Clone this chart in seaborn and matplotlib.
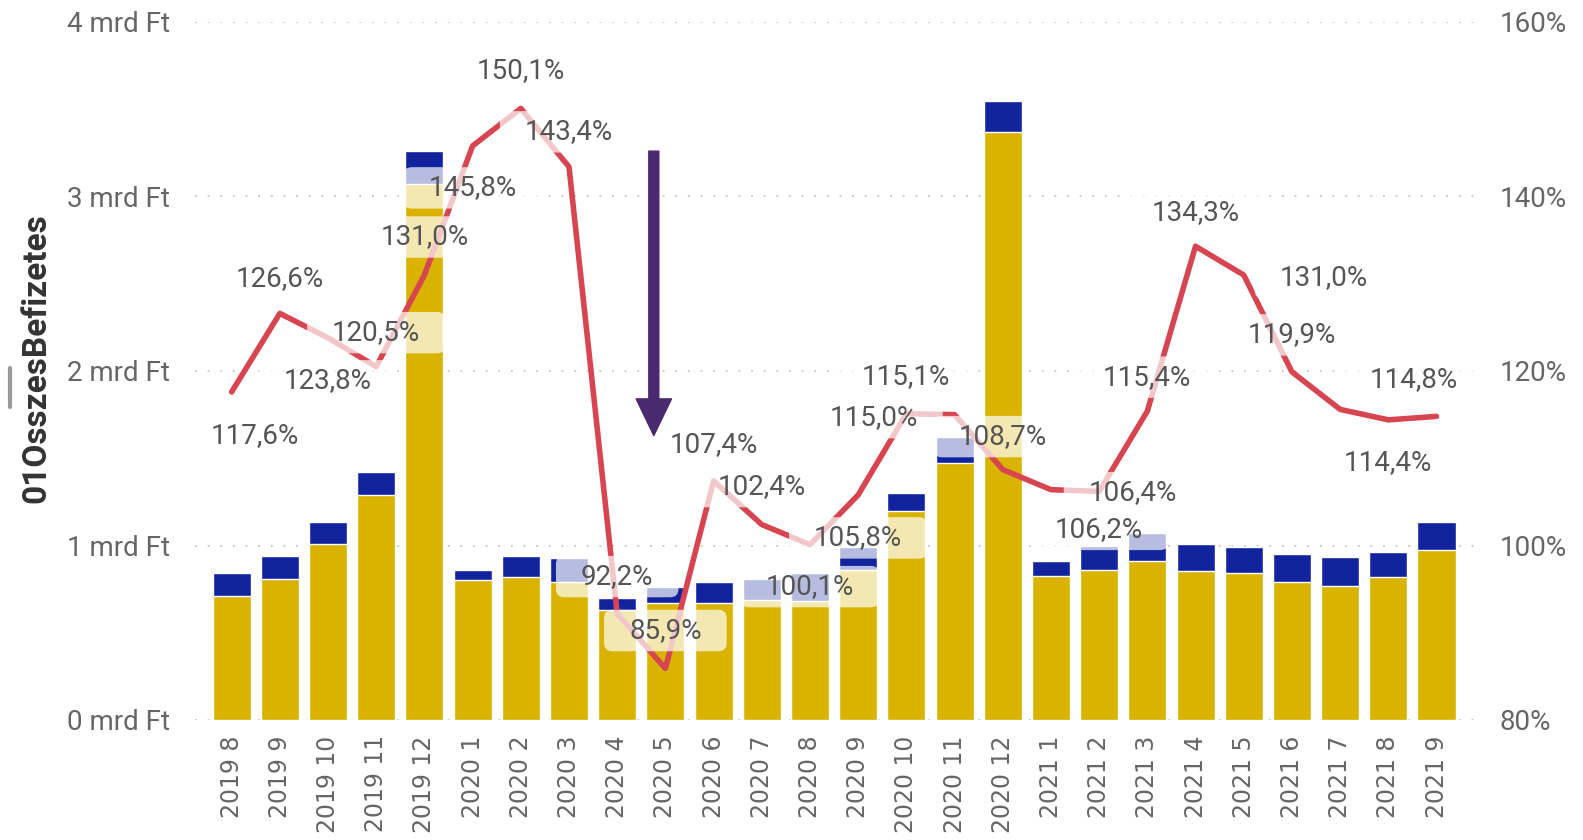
import numpy as np
import matplotlib
matplotlib.use('Agg')
import matplotlib.pyplot as plt
from matplotlib.patches import BoxStyle
from matplotlib.lines import Line2D
import seaborn as sns

# Monthly periods on the x axis
months = ['2019 8', '2019 9', '2019 10', '2019 11', '2019 12',
          '2020 1', '2020 2', '2020 3', '2020 4', '2020 5', '2020 6',
          '2020 7', '2020 8', '2020 9', '2020 10', '2020 11', '2020 12',
          '2021 1', '2021 2', '2021 3', '2021 4', '2021 5', '2021 6',
          '2021 7', '2021 8', '2021 9']

# Bar parts in mrd Ft (gold = lower part, navy = upper part)
gold_part = [0.71, 0.81, 1.01, 1.29, 3.07, 0.80, 0.82, 0.79, 0.63, 0.67, 0.67,
             0.69, 0.68, 0.86, 1.20, 1.47, 3.37, 0.825, 0.86, 0.91, 0.855, 0.84,
             0.79, 0.77, 0.82, 0.975]
navy_part = [0.13, 0.13, 0.125, 0.13, 0.19, 0.06, 0.12, 0.14, 0.07, 0.09, 0.12,
             0.12, 0.16, 0.13, 0.10, 0.15, 0.18, 0.085, 0.14, 0.16, 0.155, 0.15,
             0.16, 0.165, 0.14, 0.16]

# Ratio line (%), right axis
ratio_pct = [117.6, 126.6, 123.8, 120.5, 131.0, 145.8, 150.1, 143.4, 92.2, 85.9,
             107.4, 102.4, 100.1, 105.8, 115.1, 115.0, 108.7, 106.4, 106.2, 115.4,
             134.3, 131.0, 119.9, 115.6, 114.4, 114.8]

left_ticks = [0, 1, 2, 3, 4]
left_tick_labels = ['0 mrd Ft', '1 mrd Ft', '2 mrd Ft', '3 mrd Ft', '4 mrd Ft']
right_ticks = [80, 100, 120, 140, 160]
right_tick_labels = ['80%', '100%', '120%', '140%', '160%']

# Where Power BI put each data label (pixel offset from the point), None = hidden
label_offsets = [(23, -44), (0, 35), (0, -43), (0, 34), (0, 38), (0, -42), (0, 38),
                 (0, 35), (0, 37), (0, 38), (0, 36), (0, 38), (0, -42), (0, -43),
                 (0, 37), (-81, -3), (0, 33), (82, -3), (0, -38), (0, 34), (0, 34),
                 (80, -3), (0, 37), None, (0, -43), (-23, 37)]

GOLD = '#D9B300'
NAVY = '#12239E'
RED = '#D64550'
PURPLE = '#4A2A6E'
GREY = '#666666'
LABEL = '#555555'

sns.set_style('white')
plt.rcParams['font.family'] = ['Roboto', 'DejaVu Sans']

fig = plt.figure(figsize=(15.83, 8.40), dpi=100)
W, H = 1583, 840
ax = fig.add_axes([195 / W, 1 - 720 / H, (1477 - 195) / W, (720 - 22) / H])

totals = np.array(gold_part) + np.array(navy_part)
sns.barplot(x=months, y=totals, color=NAVY, saturation=1, width=0.79, ax=ax, zorder=2)
sns.barplot(x=months, y=gold_part, color=GOLD, saturation=1, width=0.79, ax=ax, zorder=2)

ax.set_ylim(0, 4)
ax.set_yticks(left_ticks)
ax.set_yticklabels(left_tick_labels)
ax.grid(axis='y', color='#c4c4c4', linestyle=(0, (1, 6)), linewidth=1.3)
ax.grid(axis='x', visible=False)
ax.set_axisbelow(True)
ax.tick_params(axis='y', length=0, pad=18, labelsize=20, labelcolor=GREY)
ax.tick_params(axis='x', length=0, pad=11, labelsize=17, labelcolor=GREY,
               labelrotation=90)
for lbl in ax.get_xticklabels():
    lbl.set_family('DejaVu Sans')
ax.set_xlabel('')
ax.set_ylabel('')
sns.despine(ax=ax, left=True, bottom=True)

ax2 = ax.twinx()
x_pos = np.arange(len(months))
sns.lineplot(x=x_pos, y=ratio_pct, color=RED, linewidth=4, ax=ax2, zorder=3)
ax2.set_ylim(80, 160)
ax2.set_yticks(right_ticks)
ax2.set_yticklabels(right_tick_labels)
ax2.tick_params(axis='y', length=0, pad=16, labelsize=20, labelcolor=GREY)
ax2.set_ylabel('')
for s in ax2.spines.values():
    s.set_visible(False)

_round = BoxStyle.Round(pad=0, rounding_size=0.3)


def label_box(x0, y0, width, height, mutation_size):
    px, py = 0.9 * mutation_size, 0.26 * mutation_size
    return _round(x0 - px, y0 - py, width + 2 * px, height + 2 * py, mutation_size)


for xi, val, off in zip(x_pos, ratio_pct, label_offsets):
    if off is None:
        continue
    txt = f'{val:.1f}%'.replace('.', ',')
    ax2.annotate(txt, xy=(xi, val), xytext=off, textcoords='offset pixels',
                 ha='center', va='center', fontsize=20, color=LABEL, zorder=5,
                 bbox=dict(boxstyle=label_box, facecolor='white', edgecolor='none',
                           alpha=0.7))

ax.set_xlim(-0.76, len(months) - 0.16)

# purple marker arrow pointing at the 2020 spring drop
arrow_x, arrow_top, arrow_tip = 8.76, 3.26, 1.63
ax2.annotate('', xy=(arrow_x, 80 + arrow_tip * 20), xytext=(arrow_x, 80 + arrow_top * 20),
             arrowprops=dict(arrowstyle='simple,head_length=1.1,head_width=1.06,tail_width=0.3',
                             color=PURPLE, mutation_scale=24, shrinkA=0, shrinkB=0),
             zorder=6)

fig.text(36 / W, 1 - 358 / H, '01OsszesBefizetes', rotation=90, ha='center',
         va='center', fontsize=24, fontweight='bold', color='#333333')
fig.add_artist(Line2D([10 / W, 10 / W], [1 - 368 / H, 1 - 407 / H],
                      color='#9a9a9a', linewidth=3))

fig.savefig('out.png', dpi=100)
